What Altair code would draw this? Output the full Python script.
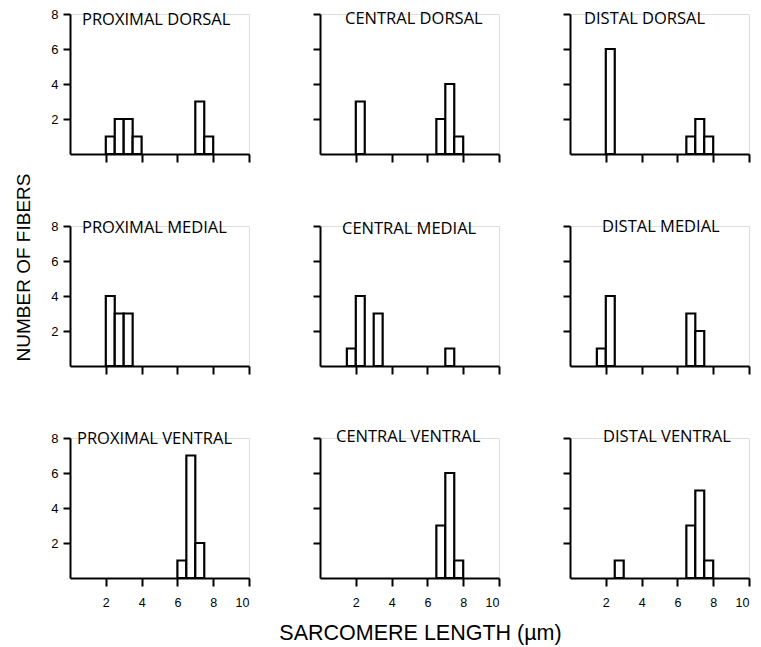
import altair as alt
import pandas as pd

# Panel titles (row-major: rows = dorsal / medial / ventral, cols = proximal / central / distal)
panel_titles = [
    "PROXIMAL DORSAL", "CENTRAL DORSAL", "DISTAL DORSAL",
    "PROXIMAL MEDIAL", "CENTRAL MEDIAL", "DISTAL MEDIAL",
    "PROXIMAL VENTRAL", "CENTRAL VENTRAL", "DISTAL VENTRAL",
]

# Bin starts (µm, bin width 0.5) and fiber counts for each panel
pd_start = [2.0, 2.5, 3.0, 3.5, 7.0, 7.5]
pd_count = [1, 2, 2, 1, 3, 1]
cd_start = [2.0, 6.5, 7.0, 7.5]
cd_count = [3, 2, 4, 1]
dd_start = [2.0, 6.5, 7.0, 7.5]
dd_count = [6, 1, 2, 1]
pm_start = [2.0, 2.5, 3.0]
pm_count = [4, 3, 3]
cm_start = [1.5, 2.0, 3.0, 7.0]
cm_count = [1, 4, 3, 1]
dm_start = [1.5, 2.0, 6.5, 7.0]
dm_count = [1, 4, 3, 2]
pv_start = [6.0, 6.5, 7.0]
pv_count = [1, 7, 2]
cv_start = [6.5, 7.0, 7.5]
cv_count = [3, 6, 1]
dv_start = [2.5, 6.5, 7.0, 7.5]
dv_count = [1, 3, 5, 1]

bin_width = 0.5
x_ticks = [2, 4, 6, 8, 10]
y_ticks = [2, 4, 6, 8]

starts = [pd_start, cd_start, dd_start, pm_start, cm_start, dm_start, pv_start, cv_start, dv_start]
counts = [pd_count, cd_count, dd_count, pm_count, cm_count, dm_count, pv_count, cv_count, dv_count]

rows = []
for title, s_list, c_list in zip(panel_titles, starts, counts):
    for s, c in zip(s_list, c_list):
        rows.append({"panel": title, "start": s, "end": s + bin_width, "count": c})
df = pd.DataFrame(rows)

# title offsets (dx, dy) so that each panel title sits inside its panel
title_dx = [12, 25, 14, 12, 22, 32, 7, 16, 33]
title_dy = [33, 27, 27, 76, 25, 23, 28, 21, 21]

W, H = 179, 140
TITLE_FONT = "Open Sans"
AXIS_FONT = "Liberation Sans"

panels = []
for i, title in enumerate(panel_titles):
    r, c = divmod(i, 3)
    x_kwargs = dict(
        values=x_ticks, grid=False, labels=(r == 2), labelAngle=0,
        domainColor="black", domainWidth=2, tickColor="black", tickWidth=2,
        tickSize=8, labelPadding=10, labelFontSize=12.5, labelFont=AXIS_FONT,
        labelColor="black", title=None,
    )
    if r == 2 and c == 1:
        x_kwargs.update(
            title="SARCOMERE LENGTH (µm)", titleX=100, titleY=61,
            titleAlign="center", titleBaseline="alphabetic", titleFontSize=21.5,
            titleFont=AXIS_FONT, titleFontWeight="normal", titleColor="black",
        )
    y_kwargs = dict(
        values=y_ticks, grid=False, labels=(c == 0),
        domainColor="black", domainWidth=2, tickColor="black", tickWidth=2,
        tickSize=7, labelPadding=5, labelFontSize=13, labelFont=AXIS_FONT,
        labelColor="black", title=None,
    )
    if r == 1 and c == 0:
        y_kwargs.update(
            title="NUMBER OF FIBERS", titleX=-37, titleY=41, titleAngle=270,
            titleAlign="center", titleBaseline="bottom", titleFontSize=19,
            titleFont=AXIS_FONT, titleFontWeight="normal", titleColor="black",
        )
    ch = (
        alt.Chart(df)
        .transform_filter(alt.datum.panel == title)
        .mark_rect(fill="white", stroke="black", strokeWidth=2.2)
        .encode(
            x=alt.X("start:Q", scale=alt.Scale(domain=[0, 10], nice=False, zero=False),
                    axis=alt.Axis(**x_kwargs)),
            x2="end:Q",
            y=alt.Y("count:Q", scale=alt.Scale(domain=[0, 8], nice=False),
                    axis=alt.Axis(**y_kwargs)),
            y2=alt.datum(0),
        )
        .properties(
            width=W, height=H,
            title=alt.TitleParams(
                text=title, anchor="start", orient="top", frame="group",
                offset=0, dx=title_dx[i], dy=title_dy[i], baseline="alphabetic",
                fontSize=16.5, font=TITLE_FONT, fontWeight="normal", color="black",
            ),
        )
    )
    panels.append(ch)

chart = (
    alt.concat(*panels, columns=3, spacing={"row": 72, "column": 71}, bounds="flush")
    .properties(padding={"left": 13, "top": 7, "right": 5, "bottom": 5})
    .configure_view(stroke=None)
    .configure(background="white")
)

chart.save("out.html", embed_options={"renderer": "svg", "actions": False})
